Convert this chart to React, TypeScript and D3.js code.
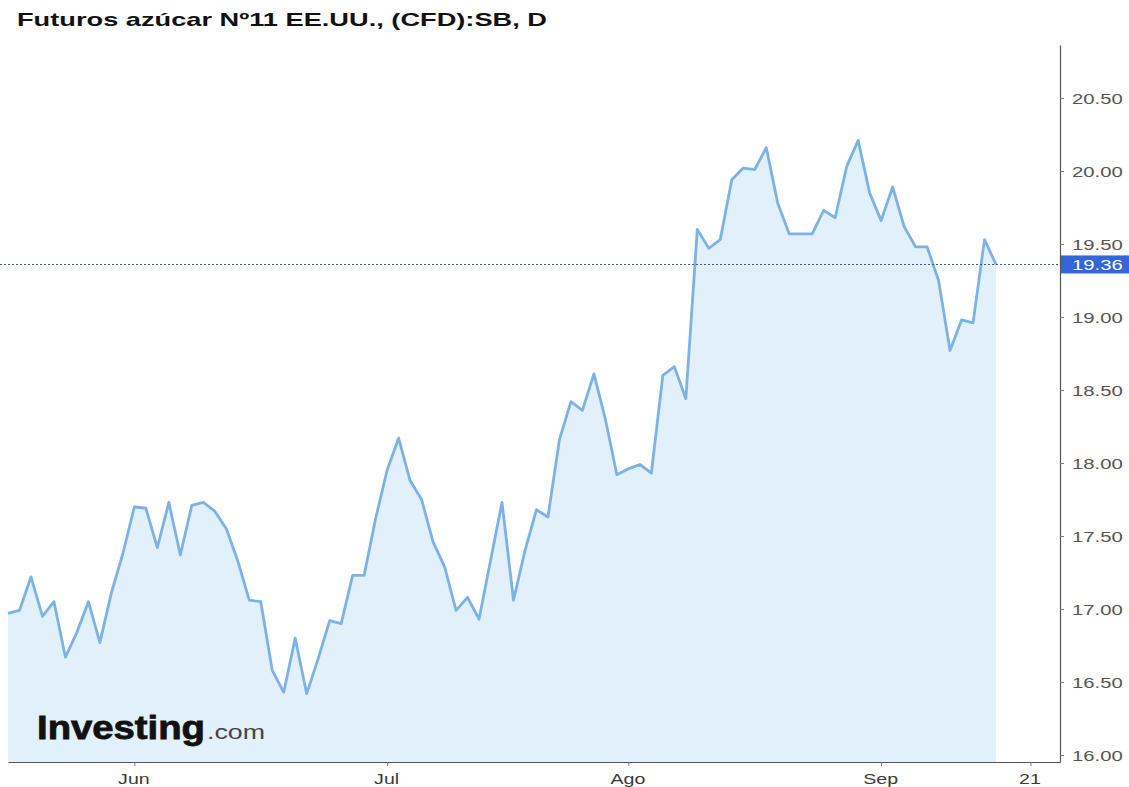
import React, { Component } from 'react';
import * as d3 from "d3";

// daily closes, trading days from 14 May to 16 Sep (index 0..86)
const prices = [
  16.97, 16.99, 17.22, 16.95, 17.05, 16.67, 16.84, 17.05, 16.77, 17.11,
  17.38, 17.70, 17.69, 17.42, 17.73, 17.37, 17.71, 17.73, 17.67, 17.55,
  17.33, 17.06, 17.05, 16.58, 16.43, 16.80, 16.42, 16.66, 16.92, 16.90,
  17.23, 17.23, 17.62, 17.95, 18.17, 17.88, 17.75, 17.46, 17.29, 16.99,
  17.08, 16.93, 17.33, 17.73, 17.06, 17.40, 17.68, 17.63, 18.16, 18.42,
  18.36, 18.61, 18.30, 17.92, 17.96, 17.99, 17.93, 18.60, 18.66, 18.44,
  19.60, 19.47, 19.53, 19.94, 20.02, 20.01, 20.16, 19.78, 19.57, 19.57,
  19.57, 19.73, 19.68, 20.03, 20.21, 19.85, 19.66, 19.89, 19.62, 19.48,
  19.48, 19.25, 18.77, 18.98, 18.96, 19.53, 19.36
];

// x ticks: trading-day index of each label
const tickIdx = [11, 33, 54, 76, 89];
const tickLabels = ["Jun", "Jul", "Ago", "Sep", "21"];

const yTicks = [16, 16.5, 17, 17.5, 18, 18.5, 19, 19.5, 20, 20.5];
const lastPrice = 19.36;
const title = "Futuros azúcar Nº11 EE.UU., (CFD):SB, D";

class Chart extends Component {
  componentDidMount() {
    this.renderChart();
  }
  renderChart() {
    const el = document.getElementById("chart");
    if (el == null) return;
    d3.selectAll("#chart > *").remove();

    const width = 1129, height = 787;
    const left = 8, right = 1060, top = 45, bottom = 762;
    const stretch = 1.4;

    const svg = d3.select("#chart")
      .append("svg")
      .attr("width", width)
      .attr("height", height)
      .style("position", "absolute")
      .style("left", "0px")
      .style("top", "0px")
      .style("font-family", "'Liberation Sans', Arial, sans-serif");

    svg.append("rect").attr("width", width).attr("height", height).attr("fill", "#fff");

    const x = d3.scaleLinear().domain([0, 91.57]).range([left, right]);
    const y = d3.scaleLinear().domain([15.952, 20.863]).range([bottom, top]);

    // title
    svg.append("text")
      .attr("x", 17)
      .attr("y", 26)
      .attr("font-size", 19)
      .attr("font-weight", "bold")
      .attr("fill", "#111")
      .attr("textLength", 530)
      .attr("lengthAdjust", "spacingAndGlyphs")
      .text(title);

    // area + line
    const area = d3.area<number>()
      .x((d, i) => x(i))
      .y0(bottom)
      .y1(d => y(d));
    const line = d3.line<number>()
      .x((d, i) => x(i))
      .y(d => y(d));

    svg.append("path")
      .datum(prices)
      .attr("fill", "#e1f0fa")
      .attr("d", area);

    // watermark logo
    const logo = svg.append("text")
      .attr("x", 37)
      .attr("y", 739);
    logo.append("tspan")
      .attr("font-size", 33)
      .attr("font-weight", "bold")
      .attr("fill", "#111")
      .attr("stroke", "#111")
      .attr("stroke-width", 0.8)
      .attr("textLength", 168)
      .attr("lengthAdjust", "spacingAndGlyphs")
      .text("Investing");
    logo.append("tspan")
      .attr("x", 207)
      .attr("font-size", 20)
      .attr("fill", "#444")
      .attr("textLength", 58)
      .attr("lengthAdjust", "spacingAndGlyphs")
      .text(".com");

    svg.append("path")
      .datum(prices)
      .attr("fill", "none")
      .attr("stroke", "#7db2e6")
      .attr("stroke-width", 2.8)
      .attr("stroke-linejoin", "round")
      .attr("d", line);

    // last price dotted line
    svg.append("line")
      .attr("x1", 0)
      .attr("x2", right)
      .attr("y1", Math.round(y(lastPrice)) + 0.5)
      .attr("y2", Math.round(y(lastPrice)) + 0.5)
      .attr("stroke", "#4a5878")
      .attr("stroke-width", 1)
      .attr("stroke-dasharray", "2,2");

    // x axis
    const xAxis = svg.append("g")
      .attr("transform", "translate(0," + bottom + ")")
      .call(d3.axisBottom(x)
        .tickValues(tickIdx)
        .tickFormat((d, i) => tickLabels[i])
        .tickSize(4)
        .tickSizeOuter(0));
    xAxis.select(".domain").attr("stroke", "#555").attr("stroke-width", 1.2);
    xAxis.selectAll(".tick line").attr("stroke", "#777");
    xAxis.selectAll(".tick text")
      .attr("y", 0)
      .attr("dy", null)
      .attr("transform", "translate(-1,22) scale(" + stretch + ",1)")
      .attr("font-size", 14)
      .attr("font-family", "'Liberation Sans', Arial, sans-serif")
      .attr("fill", "#3a3a3a");

    // y axis
    const yAxis = svg.append("g")
      .attr("transform", "translate(" + right + ",0)")
      .call(d3.axisRight(y)
        .tickValues(yTicks)
        .tickFormat(d3.format(".2f"))
        .tickSize(4)
        .tickSizeOuter(0));
    yAxis.select(".domain").attr("stroke", "#555").attr("stroke-width", 1.2);
    yAxis.selectAll(".tick line").attr("stroke", "#777");
    yAxis.selectAll(".tick text")
      .attr("x", 0)
      .attr("dy", "0.36em")
      .attr("transform", "translate(12,0) scale(" + stretch + ",1)")
      .attr("font-size", 14.5)
      .attr("font-family", "'Liberation Sans', Arial, sans-serif")
      .attr("fill", "#555");

    // last price badge
    const badge = svg.append("g")
      .attr("transform", "translate(" + right + "," + y(lastPrice) + ")");
    badge.append("rect")
      .attr("x", 1)
      .attr("y", -9)
      .attr("width", width - right)
      .attr("height", 18)
      .attr("fill", "#3466d9");
    badge.append("text")
      .attr("x", 0)
      .attr("dy", "0.36em")
      .attr("transform", "translate(12,0) scale(" + stretch + ",1)")
      .attr("font-size", 14.5)
      .attr("fill", "#fff")
      .text(d3.format(".2f")(lastPrice));
  }
  render() {
    return (<div id="chart"></div>);
  }
}

export default function App() {
  return <Chart />;
}
